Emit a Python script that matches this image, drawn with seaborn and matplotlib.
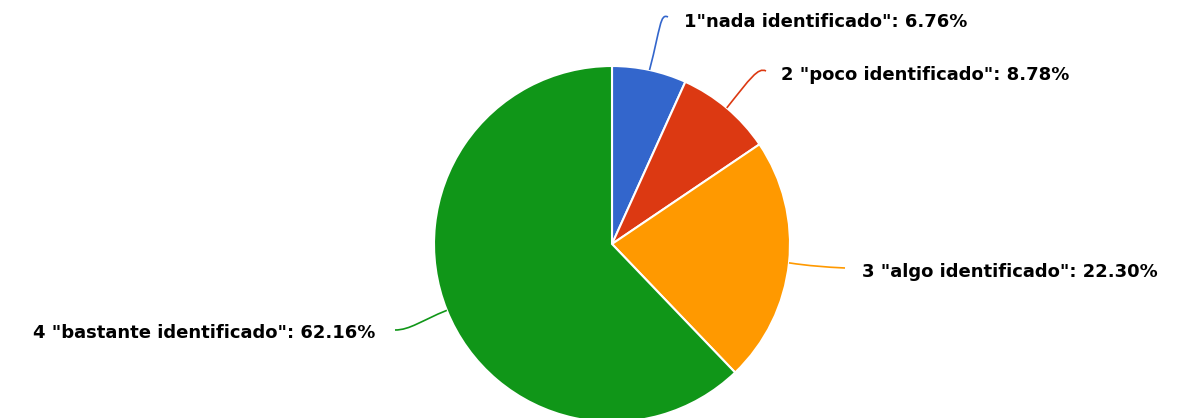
import numpy as np
import matplotlib
matplotlib.use('Agg')
import matplotlib.pyplot as plt
import seaborn as sns
from matplotlib.path import Path
from matplotlib.patches import PathPatch

# Data
labels = ['1"nada identificado"', '2 "poco identificado"',
          '3 "algo identificado"', '4 "bastante identificado"']
values = [6.76, 8.78, 22.30, 62.16]
colors = ['#3366cc', '#dc3912', '#ff9900', '#109618']

sns.set_theme(style='white')
plt.rcParams['font.family'] = ['DejaVu Sans']

W, H = 1178, 418
fig = plt.figure(figsize=(W / 100, H / 100), dpi=100)
ax = fig.add_axes([0, 0, 1, 1])

cx, cy, r = 612, 418 - 244, 178
wedges, _ = ax.pie(values, colors=colors, startangle=90, counterclock=False,
                   center=(cx, cy), radius=r, frame=True,
                   wedgeprops=dict(edgecolor='white', linewidth=1.5))
ax.set_xlim(0, W)
ax.set_ylim(0, H)
ax.set_aspect('equal')
ax.axis('off')

# leader line end points and label anchors (pixels from top)
ends = [(668, 17), (766, 71), (845, 268), (395, 330)]
texts = [(684, 22, 'left'), (781, 75, 'left'), (862, 272, 'left'), (375, 333, 'right')]

cum = np.cumsum([0] + values[:-1])
for i, v in enumerate(values):
    mid = np.deg2rad((cum[i] + v / 2) / 100 * 360)
    sx, sy = cx + r * np.sin(mid), cy + r * np.cos(mid)
    ex, ey = ends[i][0], H - ends[i][1]
    if i < 2:
        # rise then hook to the right
        verts = [(sx, sy), (sx + (ex - sx) * 0.6, sy + (ey - sy) * 0.8),
                 (ex - 8, ey + 4), (ex, ey)]
    elif i == 2:
        verts = [(sx, sy), (sx + 20, sy - 3), (ex - 20, ey + 1), (ex, ey)]
    else:
        verts = [(sx, sy), (sx - 25, sy - 10), (ex + 15, ey), (ex, ey)]
    path = Path(verts, [Path.MOVETO, Path.CURVE4, Path.CURVE4, Path.CURVE4])
    ax.add_patch(PathPatch(path, fc='none', ec=colors[i], lw=1.2))
    tx, ty, ha = texts[i]
    ax.text(tx, H - ty, f'{labels[i]}: {v:.2f}%', ha=ha, va='center',
            fontsize=13, fontweight='bold', color='black')

fig.savefig('out.png', dpi=100)
